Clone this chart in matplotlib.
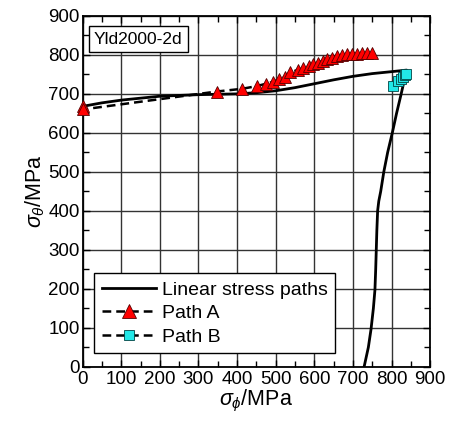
import numpy as np
import matplotlib
matplotlib.use("Agg")
import matplotlib.pyplot as plt
from matplotlib.ticker import MultipleLocator

plt.rcParams["font.family"] = ["Liberation Sans", "DejaVu Sans"]
plt.rcParams["mathtext.fontset"] = "custom"
plt.rcParams["mathtext.rm"] = "Liberation Sans"
plt.rcParams["mathtext.it"] = "Liberation Sans:italic"

# ── data ────────────────────────────────────────────────
linear_x = [0, 50, 100, 200, 300, 400, 450, 500, 550, 600, 650, 700, 750,
            800, 839, 825, 813, 802, 790, 780, 772, 767, 764, 762, 760.5,
            759, 757, 753, 747, 740, 729]
linear_y = [668, 677, 684, 694, 698, 700, 703, 708, 716, 726, 736, 745, 752,
            757, 761, 700, 650, 600, 550, 500, 450, 425, 400, 350, 300,
            250, 197, 150, 97, 50, 0]

path_a_x = [0, 0, 347, 413, 451, 475, 494, 509, 524, 537, 559, 572, 585, 597,
            610, 623, 634, 645, 658, 671, 684, 697, 710, 723, 736, 749]
path_a_y = [668, 660, 706, 713, 720, 726, 731, 738, 743, 755, 762, 766, 772,
            776, 780, 785, 789, 793, 797, 800, 802, 803, 803, 804, 804, 804]

path_b_x = [803, 818, 824, 831, 835, 837]
path_b_y = [720, 732, 738, 744, 749, 751]

ticks = list(range(0, 1000, 100))

# ── figure ──────────────────────────────────────────────
fig = plt.figure(figsize=(4.49, 4.30), dpi=100)
ax = fig.add_axes([0.184, 0.147, 0.774, 0.816])

ax.plot(linear_x, linear_y, color="black", lw=2.0, label="Linear stress paths",
        zorder=3)
ax.plot(path_a_x, path_a_y, color="black", lw=1.8, ls=(0, (3.5, 2)),
        marker="^", ms=9, mfc="red", mec="#550000", mew=0.6,
        label="Path A", zorder=4, clip_on=False)
ax.plot(path_b_x, path_b_y, color="black", lw=1.8, ls=(0, (3.5, 2)),
        marker="s", ms=7, mfc="#22e8e8", mec="#004444", mew=0.6,
        label="Path B", zorder=4)

ax.set_xlim(0, 900)
ax.set_ylim(0, 900)
ax.set_xticks(ticks)
ax.set_yticks(ticks)
ax.xaxis.set_minor_locator(MultipleLocator(50))
ax.yaxis.set_minor_locator(MultipleLocator(50))
ax.tick_params(which="both", direction="in", top=True, right=True,
               labelsize=13.5, width=1.0, pad=2)
ax.tick_params(axis="x", which="both", pad=3)
ax.tick_params(which="major", length=5)
ax.tick_params(which="minor", length=4)
ax.grid(True, which="major", color="#333333", lw=1.0)
for sp in ax.spines.values():
    sp.set_linewidth(1.3)

ax.set_xlabel(r"$\sigma_\phi$/MPa", fontsize=15.5, labelpad=0)
ax.set_ylabel(r"$\sigma_\theta$/MPa", fontsize=15.5, labelpad=1)

ax.text(0.032, 0.955, "Yld2000-2d", transform=ax.transAxes, fontsize=12.5,
        ha="left", va="top",
        bbox=dict(boxstyle="square,pad=0.3", fc="white", ec="black", lw=1.0))

leg = ax.legend(loc="lower left", bbox_to_anchor=(0.032, 0.038), fontsize=14,
                frameon=True, fancybox=False, edgecolor="black",
                framealpha=1, handlelength=2.8, handletextpad=0.3,
                labelspacing=0.3, borderpad=0.4, borderaxespad=0,
                markerscale=1.1)
leg.get_frame().set_linewidth(1.0)

plt.savefig("out.png", dpi=100)
plt.close()
